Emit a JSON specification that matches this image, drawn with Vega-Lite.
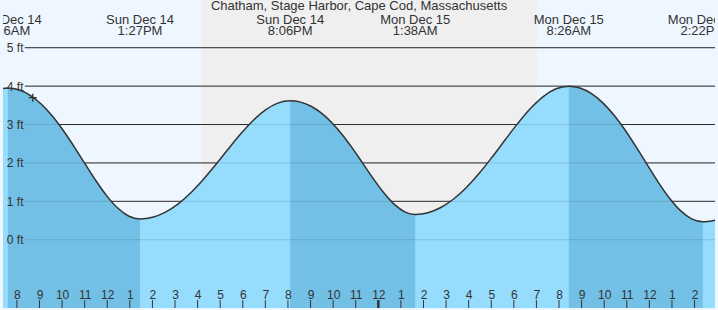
{
  "$schema": "https://vega.github.io/schema/vega-lite/v6.json",
  "width": 718,
  "height": 310,
  "autosize": {"type": "fit", "contains": "padding"},
  "padding": 0,
  "background": "#eef7ff",
  "config": {
    "view": {"stroke": null},
    "font": "Liberation Sans",
    "axisX": {
      "ticks": false, "tickSize": 0, "domain": false, "grid": false,
      "labelPadding": -10, "labelBaseline": "alphabetic", "labelFontSize": 12,
      "labelColor": "#333", "labelFlush": false, "labelOverlap": false, "labelBound": false
    },
    "axisY": {
      "ticks": false, "tickSize": 0, "domain": false, "grid": false,
      "labelPadding": -20, "labelAlign": "right", "labelBaseline": "middle", "labelFontSize": 12,
      "labelColor": "#333", "labelFlush": false, "labelOverlap": false, "labelBound": false
    }
  },
  "datasets": {
    "night": [{"t": 16.165, "t2": 31.016}],
    "grid": [{"h": 0}, {"h": 1}, {"h": 2}, {"h": 3}, {"h": 4}, {"h": 5}],
    "now": [{"t": 8.702, "h": 3.70}],
    "hours": [{"t": 8}, {"t": 9}, {"t": 10}, {"t": 11}, {"t": 12}, {"t": 13}, {"t": 14}, {"t": 15}, {"t": 16}, {"t": 17}, {"t": 18}, {"t": 19}, {"t": 20}, {"t": 21}, {"t": 22}, {"t": 23}, {"t": 24}, {"t": 25}, {"t": 26}, {"t": 27}, {"t": 28}, {"t": 29}, {"t": 30}, {"t": 31}, {"t": 32}, {"t": 33}, {"t": 34}, {"t": 35}, {"t": 36}, {"t": 37}, {"t": 38}],
    "title": [{"label": "Chatham, Stage Harbor, Cape Cod, Massachusetts"}],
    "ext": [
      {"t": 7.6, "day": "Sun Dec 14", "time": "7:36AM"},
      {"t": 13.45, "day": "Sun Dec 14", "time": "1:27PM"},
      {"t": 20.1, "day": "Sun Dec 14", "time": "8:06PM"},
      {"t": 25.633, "day": "Mon Dec 15", "time": "1:38AM"},
      {"t": 32.433, "day": "Mon Dec 15", "time": "8:26AM"},
      {"t": 38.367, "day": "Mon Dec 15", "time": "2:22PM"}
    ],
    "tide": [
      {"t": 7.385, "h": 3.94, "ph": "r", "seg": "R0"},
      {"t": 7.6, "h": 3.95, "ph": "f", "seg": "A"},
      {"t": 8.0875, "h": 3.904, "ph": "f", "seg": "A"},
      {"t": 8.575, "h": 3.766, "ph": "f", "seg": "A"},
      {"t": 9.0625, "h": 3.541, "ph": "f", "seg": "A"},
      {"t": 9.55, "h": 3.234, "ph": "f", "seg": "A"},
      {"t": 10.0375, "h": 2.859, "ph": "f", "seg": "A"},
      {"t": 10.525, "h": 2.432, "ph": "f", "seg": "A"},
      {"t": 11.0125, "h": 1.981, "ph": "f", "seg": "A"},
      {"t": 11.5, "h": 1.537, "ph": "f", "seg": "A"},
      {"t": 11.9875, "h": 1.136, "ph": "f", "seg": "A"},
      {"t": 12.475, "h": 0.818, "ph": "f", "seg": "A"},
      {"t": 12.9625, "h": 0.611, "ph": "f", "seg": "A"},
      {"t": 13.45, "h": 0.54, "ph": "f", "seg": "A"},
      {"t": 14.004, "h": 0.583, "ph": "r", "seg": "B"},
      {"t": 14.558, "h": 0.712, "ph": "r", "seg": "B"},
      {"t": 15.113, "h": 0.921, "ph": "r", "seg": "B"},
      {"t": 15.667, "h": 1.204, "ph": "r", "seg": "B"},
      {"t": 16.221, "h": 1.548, "ph": "r", "seg": "B"},
      {"t": 16.775, "h": 1.935, "ph": "r", "seg": "B"},
      {"t": 17.329, "h": 2.342, "ph": "r", "seg": "B"},
      {"t": 17.883, "h": 2.739, "ph": "r", "seg": "B"},
      {"t": 18.438, "h": 3.094, "ph": "r", "seg": "B"},
      {"t": 18.992, "h": 3.376, "ph": "r", "seg": "B"},
      {"t": 19.546, "h": 3.558, "ph": "r", "seg": "B"},
      {"t": 20.1, "h": 3.62, "ph": "f", "seg": "C"},
      {"t": 20.561, "h": 3.584, "ph": "f", "seg": "C"},
      {"t": 21.022, "h": 3.476, "ph": "f", "seg": "C"},
      {"t": 21.483, "h": 3.296, "ph": "f", "seg": "C"},
      {"t": 21.944, "h": 3.047, "ph": "f", "seg": "C"},
      {"t": 22.405, "h": 2.735, "ph": "f", "seg": "C"},
      {"t": 22.866, "h": 2.371, "ph": "f", "seg": "C"},
      {"t": 23.328, "h": 1.977, "ph": "f", "seg": "C"},
      {"t": 23.789, "h": 1.581, "ph": "f", "seg": "C"},
      {"t": 24.25, "h": 1.216, "ph": "f", "seg": "C"},
      {"t": 24.711, "h": 0.92, "ph": "f", "seg": "C"},
      {"t": 25.172, "h": 0.727, "ph": "f", "seg": "C"},
      {"t": 25.633, "h": 0.66, "ph": "f", "seg": "C"},
      {"t": 26.2, "h": 0.705, "ph": "r", "seg": "D"},
      {"t": 26.767, "h": 0.84, "ph": "r", "seg": "D"},
      {"t": 27.333, "h": 1.061, "ph": "r", "seg": "D"},
      {"t": 27.9, "h": 1.361, "ph": "r", "seg": "D"},
      {"t": 28.467, "h": 1.729, "ph": "r", "seg": "D"},
      {"t": 29.033, "h": 2.147, "ph": "r", "seg": "D"},
      {"t": 29.6, "h": 2.589, "ph": "r", "seg": "D"},
      {"t": 30.167, "h": 3.023, "ph": "r", "seg": "D"},
      {"t": 30.733, "h": 3.416, "ph": "r", "seg": "D"},
      {"t": 31.3, "h": 3.728, "ph": "r", "seg": "D"},
      {"t": 31.867, "h": 3.93, "ph": "r", "seg": "D"},
      {"t": 32.433, "h": 4.0, "ph": "f", "seg": "E"},
      {"t": 32.928, "h": 3.952, "ph": "f", "seg": "E"},
      {"t": 33.422, "h": 3.81, "ph": "f", "seg": "E"},
      {"t": 33.917, "h": 3.576, "ph": "f", "seg": "E"},
      {"t": 34.411, "h": 3.259, "ph": "f", "seg": "E"},
      {"t": 34.906, "h": 2.87, "ph": "f", "seg": "E"},
      {"t": 35.4, "h": 2.429, "ph": "f", "seg": "E"},
      {"t": 35.895, "h": 1.962, "ph": "f", "seg": "E"},
      {"t": 36.389, "h": 1.502, "ph": "f", "seg": "E"},
      {"t": 36.884, "h": 1.087, "ph": "f", "seg": "E"},
      {"t": 37.378, "h": 0.757, "ph": "f", "seg": "E"},
      {"t": 37.873, "h": 0.544, "ph": "f", "seg": "E"},
      {"t": 38.367, "h": 0.47, "ph": "f", "seg": "E"},
      {"t": 38.905, "h": 0.51, "ph": "r", "seg": "F"}
    ]
  },
  "layer": [
    {
      "data": {"name": "night"},
      "mark": {"type": "rect", "color": "#efefef"},
      "encoding": {
        "x": {"field": "t", "type": "quantitative", "scale": {"domain": [7.385, 38.905], "nice": false, "zero": false}, "axis": {"title": null, "zindex": 1, "values": [8, 9, 10, 11, 12, 13, 14, 15, 16, 17, 18, 19, 20, 21, 22, 23, 24, 25, 26, 27, 28, 29, 30, 31, 32, 33, 34, 35, 36, 37, 38], "labelExpr": "((datum.value - 1) % 12) + 1"}},
        "x2": {"field": "t2"},
        "y": {"datum": 6.243, "type": "quantitative", "scale": {"domain": [-1.778, 6.243], "nice": false, "zero": false}, "axis": {"title": null, "zindex": 1, "values": [0, 1, 2, 3, 4, 5], "labelExpr": "datum.value + ' ft'"}},
        "y2": {"datum": -1.778}
      }
    },
    {
      "data": {"name": "grid"},
      "mark": {"type": "rule", "color": "#333", "strokeWidth": 1},
      "encoding": {
        "x": {"datum": 8.351, "type": "quantitative", "scale": {"domain": [7.385, 38.905], "nice": false, "zero": false}, "axis": {"title": null, "zindex": 1, "values": [8, 9, 10, 11, 12, 13, 14, 15, 16, 17, 18, 19, 20, 21, 22, 23, 24, 25, 26, 27, 28, 29, 30, 31, 32, 33, 34, 35, 36, 37, 38], "labelExpr": "((datum.value - 1) % 12) + 1"}},
        "x2": {"datum": 38.905},
        "y": {"field": "h", "type": "quantitative", "scale": {"domain": [-1.778, 6.243], "nice": false, "zero": false}, "axis": {"title": null, "zindex": 1, "values": [0, 1, 2, 3, 4, 5], "labelExpr": "datum.value + ' ft'"}}
      }
    },
    {
      "data": {"name": "tide"},
      "mark": {"type": "area", "interpolate": "monotone", "color": "#96dcfd"},
      "encoding": {
        "x": {"field": "t", "type": "quantitative", "scale": {"domain": [7.385, 38.905], "nice": false, "zero": false}, "axis": {"title": null, "zindex": 1, "values": [8, 9, 10, 11, 12, 13, 14, 15, 16, 17, 18, 19, 20, 21, 22, 23, 24, 25, 26, 27, 28, 29, 30, 31, 32, 33, 34, 35, 36, 37, 38], "labelExpr": "((datum.value - 1) % 12) + 1"}},
        "y": {"field": "h", "type": "quantitative", "scale": {"domain": [-1.778, 6.243], "nice": false, "zero": false}, "axis": {"title": null, "zindex": 1, "values": [0, 1, 2, 3, 4, 5], "labelExpr": "datum.value + ' ft'"}},
        "y2": {"datum": -1.778}
      }
    },
    {
      "data": {"name": "tide"},
      "transform": [{"filter": "datum.ph == 'f'"}],
      "mark": {"type": "area", "interpolate": "monotone", "color": "#72c0e5"},
      "encoding": {
        "x": {"field": "t", "type": "quantitative", "scale": {"domain": [7.385, 38.905], "nice": false, "zero": false}, "axis": {"title": null, "zindex": 1, "values": [8, 9, 10, 11, 12, 13, 14, 15, 16, 17, 18, 19, 20, 21, 22, 23, 24, 25, 26, 27, 28, 29, 30, 31, 32, 33, 34, 35, 36, 37, 38], "labelExpr": "((datum.value - 1) % 12) + 1"}},
        "y": {"field": "h", "type": "quantitative", "scale": {"domain": [-1.778, 6.243], "nice": false, "zero": false}, "axis": {"title": null, "zindex": 1, "values": [0, 1, 2, 3, 4, 5], "labelExpr": "datum.value + ' ft'"}},
        "y2": {"datum": -1.778},
        "detail": {"field": "seg"}
      }
    },
    {
      "data": {"name": "grid"},
      "mark": {"type": "rule", "color": "#000", "opacity": 0.12, "strokeWidth": 1},
      "encoding": {
        "x": {"datum": 8.351, "type": "quantitative", "scale": {"domain": [7.385, 38.905], "nice": false, "zero": false}, "axis": {"title": null, "zindex": 1, "values": [8, 9, 10, 11, 12, 13, 14, 15, 16, 17, 18, 19, 20, 21, 22, 23, 24, 25, 26, 27, 28, 29, 30, 31, 32, 33, 34, 35, 36, 37, 38], "labelExpr": "((datum.value - 1) % 12) + 1"}},
        "x2": {"datum": 38.905},
        "y": {"field": "h", "type": "quantitative", "scale": {"domain": [-1.778, 6.243], "nice": false, "zero": false}, "axis": {"title": null, "zindex": 1, "values": [0, 1, 2, 3, 4, 5], "labelExpr": "datum.value + ' ft'"}}
      }
    },
    {
      "data": {"name": "tide"},
      "mark": {"type": "line", "interpolate": "monotone", "color": "#333", "strokeWidth": 1.5},
      "encoding": {
        "x": {"field": "t", "type": "quantitative", "scale": {"domain": [7.385, 38.905], "nice": false, "zero": false}, "axis": {"title": null, "zindex": 1, "values": [8, 9, 10, 11, 12, 13, 14, 15, 16, 17, 18, 19, 20, 21, 22, 23, 24, 25, 26, 27, 28, 29, 30, 31, 32, 33, 34, 35, 36, 37, 38], "labelExpr": "((datum.value - 1) % 12) + 1"}},
        "y": {"field": "h", "type": "quantitative", "scale": {"domain": [-1.778, 6.243], "nice": false, "zero": false}, "axis": {"title": null, "zindex": 1, "values": [0, 1, 2, 3, 4, 5], "labelExpr": "datum.value + ' ft'"}}
      }
    },
    {
      "data": {"name": "now"},
      "mark": {"type": "point", "shape": "M-1,0L1,0M0,-1L0,1", "size": 64, "filled": false, "stroke": "#333", "strokeWidth": 1.3, "opacity": 1},
      "encoding": {
        "x": {"field": "t", "type": "quantitative", "scale": {"domain": [7.385, 38.905], "nice": false, "zero": false}, "axis": {"title": null, "zindex": 1, "values": [8, 9, 10, 11, 12, 13, 14, 15, 16, 17, 18, 19, 20, 21, 22, 23, 24, 25, 26, 27, 28, 29, 30, 31, 32, 33, 34, 35, 36, 37, 38], "labelExpr": "((datum.value - 1) % 12) + 1"}},
        "y": {"field": "h", "type": "quantitative", "scale": {"domain": [-1.778, 6.243], "nice": false, "zero": false}, "axis": {"title": null, "zindex": 1, "values": [0, 1, 2, 3, 4, 5], "labelExpr": "datum.value + ' ft'"}}
      }
    },
    {
      "data": {"name": "hours"},
      "mark": {"type": "rule", "color": "#333"},
      "encoding": {
        "x": {"field": "t", "type": "quantitative", "scale": {"domain": [7.385, 38.905], "nice": false, "zero": false}, "axis": {"title": null, "zindex": 1, "values": [8, 9, 10, 11, 12, 13, 14, 15, 16, 17, 18, 19, 20, 21, 22, 23, 24, 25, 26, 27, 28, 29, 30, 31, 32, 33, 34, 35, 36, 37, 38], "labelExpr": "((datum.value - 1) % 12) + 1"}},
        "y": {"datum": -1.778, "type": "quantitative", "scale": {"domain": [-1.778, 6.243], "nice": false, "zero": false}, "axis": {"title": null, "zindex": 1, "values": [0, 1, 2, 3, 4, 5], "labelExpr": "datum.value + ' ft'"}},
        "y2": {"datum": -1.571},
        "strokeWidth": {"condition": {"test": "datum.t == 24", "value": 2.5}, "value": 1}
      }
    },
    {
      "data": {"name": "title"},
      "mark": {"type": "text", "fontSize": 13, "color": "#333", "align": "center", "baseline": "alphabetic", "clip": true},
      "encoding": {
        "x": {"datum": 23.145, "type": "quantitative", "scale": {"domain": [7.385, 38.905], "nice": false, "zero": false}, "axis": {"title": null, "zindex": 1, "values": [8, 9, 10, 11, 12, 13, 14, 15, 16, 17, 18, 19, 20, 21, 22, 23, 24, 25, 26, 27, 28, 29, 30, 31, 32, 33, 34, 35, 36, 37, 38], "labelExpr": "((datum.value - 1) % 12) + 1"}},
        "y": {"datum": 5.971, "type": "quantitative", "scale": {"domain": [-1.778, 6.243], "nice": false, "zero": false}, "axis": {"title": null, "zindex": 1, "values": [0, 1, 2, 3, 4, 5], "labelExpr": "datum.value + ' ft'"}},
        "text": {"field": "label"}
      }
    },
    {
      "data": {"name": "ext"},
      "mark": {"type": "text", "fontSize": 13, "color": "#333", "align": "center", "baseline": "alphabetic", "clip": true},
      "encoding": {
        "x": {"field": "t", "type": "quantitative", "scale": {"domain": [7.385, 38.905], "nice": false, "zero": false}, "axis": {"title": null, "zindex": 1, "values": [8, 9, 10, 11, 12, 13, 14, 15, 16, 17, 18, 19, 20, 21, 22, 23, 24, 25, 26, 27, 28, 29, 30, 31, 32, 33, 34, 35, 36, 37, 38], "labelExpr": "((datum.value - 1) % 12) + 1"}},
        "y": {"datum": 5.61, "type": "quantitative", "scale": {"domain": [-1.778, 6.243], "nice": false, "zero": false}, "axis": {"title": null, "zindex": 1, "values": [0, 1, 2, 3, 4, 5], "labelExpr": "datum.value + ' ft'"}},
        "text": {"field": "day"}
      }
    },
    {
      "data": {"name": "ext"},
      "mark": {"type": "text", "fontSize": 13, "color": "#333", "align": "center", "baseline": "alphabetic", "clip": true},
      "encoding": {
        "x": {"field": "t", "type": "quantitative", "scale": {"domain": [7.385, 38.905], "nice": false, "zero": false}, "axis": {"title": null, "zindex": 1, "values": [8, 9, 10, 11, 12, 13, 14, 15, 16, 17, 18, 19, 20, 21, 22, 23, 24, 25, 26, 27, 28, 29, 30, 31, 32, 33, 34, 35, 36, 37, 38], "labelExpr": "((datum.value - 1) % 12) + 1"}},
        "y": {"datum": 5.338, "type": "quantitative", "scale": {"domain": [-1.778, 6.243], "nice": false, "zero": false}, "axis": {"title": null, "zindex": 1, "values": [0, 1, 2, 3, 4, 5], "labelExpr": "datum.value + ' ft'"}},
        "text": {"field": "time"}
      }
    }
  ]
}
